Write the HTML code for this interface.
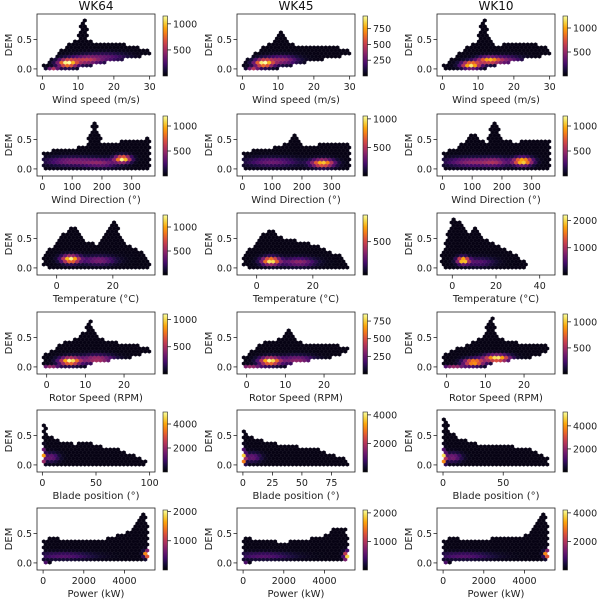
<!DOCTYPE html>
<html><head><meta charset="utf-8"><style>
html,body{margin:0;padding:0;background:#fff;}
svg{display:block;font-family:"DejaVu Sans","Liberation Sans",sans-serif;}
</style></head><body>
<svg id="fig" width="600" height="599" viewBox="0 0 600 599"></svg>
<script>
// ---- data ----
const titles = ["WK64","WK45","WK10"];
const rowLabels = ["Wind speed (m/s)","Wind Direction (°)","Temperature (°C)","Rotor Speed (RPM)","Blade position (°)","Power (kW)"];
const xlims = [
 [[-1.5,31.5],[-1.5,31.5],[-1.5,31.5]],
 [[-18,378],[-18,378],[-18,378]],
 [[-7,35],[-7,35],[-7,47]],
 [[-2.5,28],[-2.5,28],[-2.5,28]],
 [[-5,105],[-5,95],[-5,93]],
 [[-300,5500],[-300,5500],[-300,5500]]
];
const xticks = [
 [[0,10,20,30],[0,10,20,30],[0,10,20,30]],
 [[0,100,200,300],[0,100,200,300],[0,100,200,300]],
 [[0,20],[0,20],[0,20,40]],
 [[0,10,20],[0,10,20],[0,10,20]],
 [[0,50,100],[0,25,50,75],[0,50]],
 [[0,2000,4000],[0,2000,4000],[0,2000,4000]]
];
const cbMax = [[1150,950,1250],[1200,1050,1200],[1250,900,2200],[1100,850,1150],[5000,4200,5200],[2050,2100,4200]];
const cbTicks = [
 [[500,1000],[250,500,750],[500,1000]],
 [[500,1000],[500,1000],[500,1000]],
 [[500,1000],[500],[1000,2000]],
 [[500,1000],[250,500,750],[500,1000]],
 [[2000,4000],[2000,4000],[2000,4000]],
 [[1000,2000],[1000,2000],[2000,4000]]
];
const cpX = [
 [[0,2,5,8,10,11,12,13,15,20,25,30],[0,2,5,8,10,11,12,13,15,20,25,30],[0,2,5,8,10,11,12,13,15,20,25,30]],
 [[0,50,100,150,170,180,200,250,270,300,330,360],[0,50,100,150,170,180,200,250,270,300,330,360],[0,50,100,150,170,180,200,250,270,300,330,360]],
 [[-5,-3,0,3,5,8,10,15,20,25,30,33],[-5,-3,0,3,5,8,10,15,20,25,30,33],[-5,-3,0,3,5,8,10,15,20,25,30,35,40,43]],
 [[-1,0,2,4,6,8,10,11,12,13,15,20,25,27],[-1,0,2,4,6,8,10,11,12,13,15,20,25,26],[-1,0,2,4,6,8,10,11,12,13,15,20,25,26]],
 [[0,2,5,10,20,30,40,50,60,70,80,90,97],[0,2,5,10,20,30,40,50,60,70,80,90],[0,2,5,10,20,30,40,50,60,70,80,88]],
 [[0,500,1000,2000,3000,4000,4500,4800,5000,5200],[0,500,1000,2000,3000,4000,4500,4800,5000,5200],[0,500,1000,2000,3000,4000,4500,4800,5000,5200]]
];
const cpUp = [
 [[0.05,0.15,0.3,0.45,0.5,0.8,0.83,0.5,0.45,0.45,0.4,0.3],[0.05,0.2,0.35,0.45,0.6,0.65,0.6,0.45,0.4,0.4,0.4,0.32],[0.05,0.15,0.3,0.4,0.5,0.83,0.83,0.6,0.4,0.45,0.45,0.35]],
 [[0.3,0.32,0.35,0.4,0.83,0.8,0.45,0.45,0.5,0.5,0.5,0.55],[0.3,0.32,0.35,0.45,0.6,0.55,0.4,0.4,0.45,0.45,0.45,0.45],[0.3,0.35,0.6,0.45,0.83,0.83,0.5,0.45,0.5,0.5,0.5,0.5]],
 [[0.2,0.3,0.45,0.6,0.75,0.6,0.45,0.4,0.83,0.4,0.3,0.1],[0.15,0.3,0.45,0.6,0.65,0.55,0.5,0.45,0.4,0.3,0.2,0.05],[0.2,0.45,0.83,0.8,0.7,0.6,0.7,0.5,0.4,0.3,0.2,0.05,0.05,0.05]],
 [[0.2,0.25,0.3,0.4,0.45,0.5,0.6,0.83,0.7,0.5,0.45,0.4,0.35,0.3],[0.15,0.2,0.3,0.4,0.45,0.45,0.55,0.65,0.6,0.45,0.4,0.4,0.35,0.32],[0.2,0.25,0.3,0.35,0.4,0.45,0.6,0.83,0.83,0.55,0.45,0.4,0.4,0.35]],
 [[0.83,0.7,0.55,0.45,0.4,0.35,0.4,0.35,0.3,0.3,0.2,0.15,0.05],[0.6,0.6,0.5,0.45,0.4,0.35,0.35,0.3,0.3,0.2,0.15,0.1],[0.83,0.83,0.6,0.5,0.4,0.35,0.35,0.35,0.3,0.3,0.2,0.1]],
 [[0.4,0.45,0.4,0.4,0.4,0.5,0.6,0.83,0.83,0.6],[0.45,0.4,0.4,0.35,0.4,0.45,0.6,0.6,0.6,0.4],[0.4,0.45,0.4,0.4,0.45,0.45,0.6,0.83,0.83,0.6]]
];
const cpLo = [
 [[0,0,0,0,0.02,0.03,0.05,0.07,0.1,0.15,0.2,0.27],[0,0,0,0,0.02,0.03,0.05,0.07,0.1,0.15,0.2,0.27],[0,0,0,0,0,0,0.02,0.05,0.08,0.15,0.2,0.27]],
 [[0,0,0,0,0,0,0,0,0,0,0,0],[0,0,0,0,0,0,0,0,0,0,0,0],[0,0,0,0,0,0,0,0,0,0,0,0]],
 [[0.05,0.02,0,0,0,0,0,0,0,0,0,0],[0.05,0.02,0,0,0,0,0,0,0,0,0,0],[0.05,0.02,0,0,0,0,0,0,0,0,0,0.03,0.03,0.03]],
 [[0.05,0,0,0,0,0,0.02,0.05,0.07,0.1,0.12,0.15,0.25,0.28],[0.05,0,0,0,0,0,0.02,0.05,0.07,0.1,0.12,0.15,0.25,0.28],[0.05,0,0,0,0,0,0.02,0.05,0.07,0.1,0.12,0.15,0.25,0.28]],
 [[0,0,0,0,0,0,0,0,0,0,0,0,0.03],[0,0,0,0,0,0,0,0,0,0,0,0.02],[0,0,0,0,0,0,0,0,0,0,0,0.02]],
 [[0,0.03,0.03,0.03,0.03,0.03,0.03,0.03,0.03,0.05],[0,0.03,0.03,0.03,0.03,0.03,0.03,0.03,0.03,0.05],[0,0.03,0.03,0.03,0.03,0.03,0.03,0.03,0.03,0.05]]
];
const blobs = [
 [[[7,0.1,0.95,1.8,0.045],[12,0.15,0.45,3,0.05],[18,0.2,0.22,4,0.05],[3,0,0.45,1,0.02]],[[6,0.1,0.95,1.8,0.045],[11,0.15,0.4,3,0.05],[3,0,0.45,1,0.02]],[[8,0.07,0.95,1.8,0.04],[13,0.15,0.75,2.2,0.04],[18,0.15,0.28,3,0.05]]],
 [[[270,0.17,0.95,18,0.04],[100,0.13,0.32,60,0.05],[200,0.1,0.28,40,0.05]],[[270,0.1,0.85,26,0.045],[100,0.12,0.28,60,0.05]],[[270,0.13,0.95,22,0.045],[100,0.12,0.36,60,0.05],[180,0.12,0.28,30,0.05]]],
 [[[5,0.15,0.95,2.2,0.045],[15,0.13,0.32,4,0.05]],[[5,0.12,0.95,2.2,0.045],[15,0.1,0.36,4,0.05]],[[5,0.13,0.95,1.8,0.04],[12,0.1,0.22,5,0.05]]],
 [[[6,0.1,0.95,1.8,0.045],[13,0.13,0.45,3,0.05],[1,0,0.4,1.5,0.02]],[[6,0.1,0.95,1.8,0.045],[13,0.12,0.36,3,0.05],[1,0,0.4,2,0.02]],[[7,0.08,0.85,1.8,0.04],[13,0.15,0.95,2.2,0.04],[2,0,0.4,2,0.02]]],
 [[[0,0.15,1,1.5,0.08],[8,0.13,0.28,5,0.05]],[[0,0.12,1,1.5,0.08],[8,0.13,0.28,5,0.05]],[[0,0.12,1,1.5,0.08],[8,0.13,0.32,5,0.05]]],
 [[[5100,0.15,1,100,0.04],[1000,0.12,0.22,1000,0.04],[0,0,0.5,100,0.02]],[[5100,0.12,0.9,100,0.05],[1000,0.12,0.22,1000,0.04],[0,0,0.5,100,0.02]],[[5100,0.15,1,100,0.04],[1000,0.12,0.22,1000,0.04],[0,0,0.5,100,0.02]]]
];

// ---- rendering ----
const NS = "http://www.w3.org/2000/svg";
const svg = document.getElementById("fig");
const inferno = [[0,0,0,4],[0.1,22,11,57],[0.2,66,10,104],[0.3,106,23,110],[0.4,147,38,103],[0.5,188,55,84],[0.6,221,81,58],[0.7,243,120,25],[0.8,252,165,10],[0.9,246,215,70],[1,252,255,164]];
function cmap(t){t=Math.max(0,Math.min(1,t));for(let i=1;i<inferno.length;i++){if(t<=inferno[i][0]){const a=inferno[i-1],b=inferno[i],f=(t-a[0])/(b[0]-a[0]);return `rgb(${Math.round(a[1]+f*(b[1]-a[1]))},${Math.round(a[2]+f*(b[2]-a[2]))},${Math.round(a[3]+f*(b[3]-a[3]))})`;}}return "rgb(252,255,164)";}
function el(tag,attrs,parent){const e=document.createElementNS(NS,tag);for(const k in attrs)e.setAttribute(k,attrs[k]);(parent||svg).appendChild(e);return e;}
function interp(xs,ys,x){if(x<xs[0]||x>xs[xs.length-1])return null;for(let i=1;i<xs.length;i++){if(x<=xs[i]){const f=(x-xs[i-1])/(xs[i]-xs[i-1]);return ys[i-1]+f*(ys[i]-ys[i-1]);}}return ys[ys.length-1];}

const lefts=[37,237,437], tops=[14,114,213,312,410,508], W=118, H=62;
const ymin=-0.12, ymax=0.93;
const defs=el("defs",{});
const grad=el("linearGradient",{id:"cbg",x1:"0",y1:"1",x2:"0",y2:"0"},defs);
for(let i=0;i<=20;i++){el("stop",{offset:(i/20),"stop-color":cmap(i/20)},grad);}

for(let r=0;r<6;r++){for(let c=0;c<3;c++){
  const L=lefts[c],T=tops[r];
  const [x0,x1]=xlims[r][c];
  const sx=v=>L+(v-x0)/(x1-x0)*W;
  const sy=v=>T+H-(v-ymin)/(ymax-ymin)*H;
  const g=el("g",{});
  
  
  if(r===0){const t=el("text",{x:L+W/2,y:T-4,"text-anchor":"middle","font-size":"12",fill:"#111"},g);t.textContent=titles[c];
    }
  const hg=el("g",{},g);
  
  const dx=3.9, dy=3.0, R=2.05;
  let row=0;
  for(let py=T+H-1.5;py>T;py-=dy,row++){
    const off=(row%2)?dx/2:0;
    for(let px=L+1+off;px<L+W;px+=dx){
      const xv=x0+(px-L)/W*(x1-x0), yv=ymin+(T+H-py)/H*(ymax-ymin);
      const up=interp(cpX[r][c],cpUp[r][c],xv), lo=interp(cpX[r][c],cpLo[r][c],xv);
      if(up===null||yv>up||yv<lo-0.02)continue;
      let v=0.03;
      for(const b of blobs[r][c]){v+=b[2]*Math.exp(-0.5*(((xv-b[0])/b[3])**2+((yv-b[1])/b[4])**2));}
      const h=dx/2;
      const pts=[[px,py-R],[px+h,py-R/2],[px+h,py+R/2],[px,py+R],[px-h,py+R/2],[px-h,py-R/2]].map(p=>p[0].toFixed(2)+","+p[1].toFixed(2)).join(" ");
      const p=el("polygon",{points:pts,fill:cmap(Math.min(1,v)),stroke:cmap(Math.min(1,v)),"stroke-width":"0.2"},hg);
      
      
    }
  }
  const fr=el("rect",{x:L,y:T,width:W,height:H,fill:"none",stroke:"#222","stroke-width":"0.8"},g);
  
  for(const yt of [0,0.5]){const y=sy(yt);el("line",{x1:L-3.5,x2:L,y1:y,y2:y,stroke:"#222","stroke-width":"0.8"},g);
    const t=el("text",{x:L-5,y:y+3.5,"text-anchor":"end","font-size":"9.5",fill:"#222"},g);t.textContent=yt.toFixed(1);
    }
  const yl=el("text",{x:0,y:0,transform:`translate(${L-25},${T+H/2}) rotate(-90)`,"text-anchor":"middle","font-size":"10",fill:"#222"},g);yl.textContent="DEM";
  
  for(const xt of xticks[r][c]){const x=sx(xt);el("line",{x1:x,x2:x,y1:T+H,y2:T+H+3.5,stroke:"#222","stroke-width":"0.8"},g);
    const t=el("text",{x:x,y:T+H+14,"text-anchor":"middle","font-size":"9.5",fill:"#222"},g);t.textContent=String(xt);
    }
  const xl=el("text",{x:L+W/2,y:T+H+27,"text-anchor":"middle","font-size":"10",fill:"#222"},g);xl.textContent=rowLabels[r];
  
  const cx=L+126, ct=T+2, cb=T+H;
  const cr=el("rect",{x:cx,y:ct,width:4.5,height:cb-ct,fill:"url(#cbg)",stroke:"#222","stroke-width":"0.6"},g);
  
  for(const v of cbTicks[r][c]){const y=cb-v/cbMax[r][c]*(cb-ct);
    el("line",{x1:cx+4.5,x2:cx+8,y1:y,y2:y,stroke:"#222","stroke-width":"0.8"},g);
    const t=el("text",{x:cx+10,y:y+3.5,"font-size":"9.5",fill:"#222"},g);t.textContent=String(v);
    }
}}
</script>
</body></html>
